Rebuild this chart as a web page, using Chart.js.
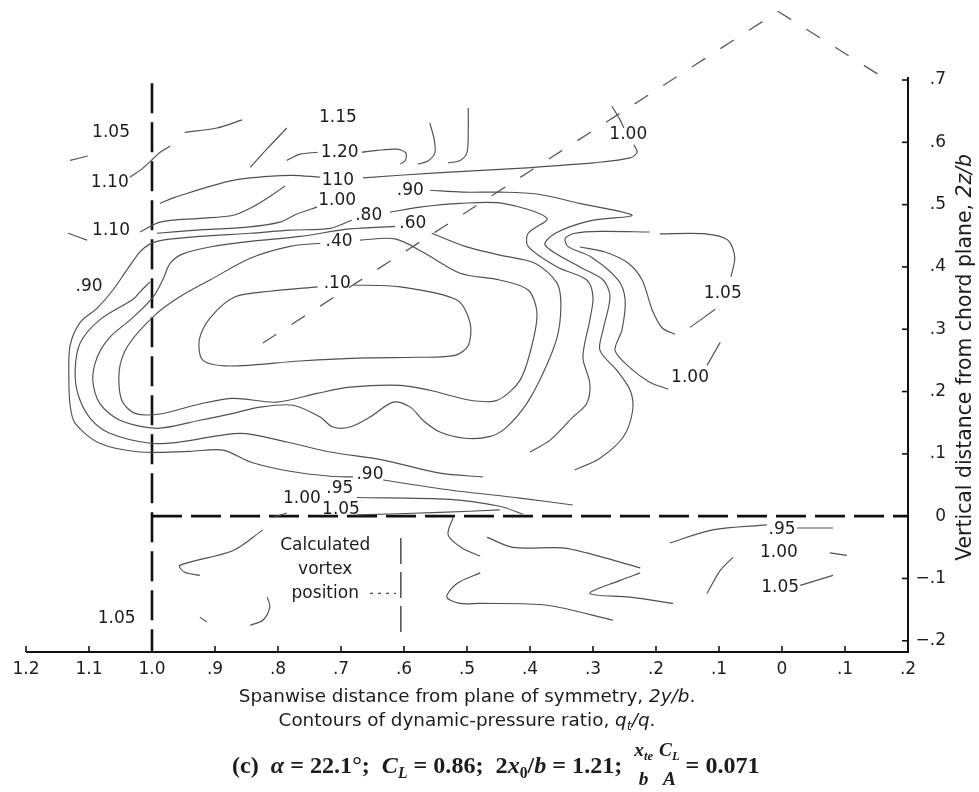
<!DOCTYPE html>
<html>
<head>
<meta charset="utf-8">
<script src="https://cdn.jsdelivr.net/npm/chart.js@4.4.1/dist/chart.umd.min.js"></script>
<style>
  html, body { margin: 0; padding: 0; background: #fff; }
  canvas { display: block; }
</style>
</head>
<body>
<canvas id="qChart" width="979" height="792"></canvas>
<script>
// axis ticks (spanwise 2y/b runs right to left, vertical 2z/b on the right)
const xTicks = [-0.2, -0.1, 0, 0.1, 0.2, 0.3, 0.4, 0.5, 0.6, 0.7, 0.8, 0.9, 1.0, 1.1, 1.2];
const xTickLabels = ['.2', '.1', '0', '.1', '.2', '.3', '.4', '.5', '.6', '.7', '.8', '.9', '1.0', '1.1', '1.2'];
const yTicks = [-0.2, -0.1, 0, 0.1, 0.2, 0.3, 0.4, 0.5, 0.6, 0.7];
const yTickLabels = ['\u2212.2', '\u2212.1', '0', '.1', '.2', '.3', '.4', '.5', '.6', '.7'];

// contours of q_t/q, [2y/b, 2z/b]
const q105UpperLeft = [[0.948, 0.616], [0.897, 0.623], [0.857, 0.636]];
const q105FarLeft = [[1.130, 0.571], [1.102, 0.578]];
const q110UpperArc = [[1.035, 0.544], [1.014, 0.559], [0.987, 0.584], [0.971, 0.594]];
const q115Rise = [[0.844, 0.560], [0.816, 0.591], [0.786, 0.623]];
const q120Left = [[0.786, 0.571], [0.765, 0.581], [0.737, 0.584]];
const q120Loop = [[0.667, 0.584], [0.643, 0.587], [0.611, 0.589], [0.597, 0.583], [0.598, 0.571], [0.606, 0.565]];
const q115Drop = [[0.559, 0.631], [0.552, 0.604], [0.551, 0.583], [0.562, 0.570], [0.578, 0.565]];
const q110Drop = [[0.498, 0.655], [0.498, 0.620], [0.500, 0.584], [0.511, 0.571], [0.530, 0.567]];
const q100Top = [[0.665, 0.543], [0.548, 0.551], [0.405, 0.559], [0.352, 0.563], [0.300, 0.567], [0.241, 0.575], [0.230, 0.584], [0.235, 0.596]];
const q100Tip = [[0.270, 0.658], [0.257, 0.636], [0.251, 0.623]];
const q110Stub = [[1.133, 0.454], [1.103, 0.443]];

const bundleA = [[0.987, 0.502], [0.963, 0.512], [0.871, 0.539], [0.781, 0.547], [0.733, 0.544]];
const bundleB = [[1.019, 0.456], [0.987, 0.472], [0.924, 0.478], [0.871, 0.483], [0.837, 0.498], [0.810, 0.515], [0.789, 0.530]];
const bundleC = [[0.992, 0.454], [0.929, 0.459], [0.849, 0.464], [0.797, 0.472], [0.770, 0.485], [0.738, 0.496]];

const q90Outer = [[0.683, 0.475], [0.717, 0.462], [0.781, 0.459], [0.844, 0.454], [0.924, 0.449], [0.983, 0.443], [1.003, 0.437], [1.019, 0.424], [1.038, 0.398], [1.062, 0.363], [1.087, 0.334], [1.114, 0.311], [1.130, 0.274], [1.132, 0.226], [1.130, 0.178], [1.122, 0.149], [1.083, 0.117], [1.019, 0.103], [0.940, 0.104], [0.887, 0.106], [0.844, 0.087], [0.781, 0.072], [0.717, 0.064], [0.681, 0.063]];
const q95Wrap = [[1.003, 0.376], [1.019, 0.360], [1.030, 0.348], [1.083, 0.315], [1.114, 0.278], [1.122, 0.234], [1.117, 0.194], [1.098, 0.157], [1.067, 0.133], [1.003, 0.117], [0.956, 0.119], [0.860, 0.133], [0.786, 0.119], [0.717, 0.103], [0.633, 0.090], [0.543, 0.069], [0.475, 0.063]];
const q60Loop = [[0.614, 0.465], [0.686, 0.461], [0.765, 0.449], [0.844, 0.441], [0.908, 0.432], [0.951, 0.421], [0.971, 0.406], [0.983, 0.379], [0.998, 0.352], [1.030, 0.319], [1.067, 0.287], [1.087, 0.255], [1.094, 0.218], [1.083, 0.181], [1.051, 0.154], [0.992, 0.141], [0.924, 0.154], [0.871, 0.165], [0.829, 0.175], [0.776, 0.178], [0.733, 0.159], [0.713, 0.143], [0.686, 0.143], [0.654, 0.159], [0.617, 0.183], [0.590, 0.175], [0.570, 0.154], [0.543, 0.135], [0.503, 0.125], [0.463, 0.128], [0.437, 0.143], [0.405, 0.181], [0.379, 0.230], [0.357, 0.287], [0.351, 0.339], [0.357, 0.374], [0.392, 0.406], [0.448, 0.419], [0.503, 0.433], [0.556, 0.454]];
const q40Loop = [[0.670, 0.443], [0.614, 0.445], [0.567, 0.422], [0.511, 0.390], [0.448, 0.379], [0.403, 0.363], [0.389, 0.327], [0.397, 0.274], [0.416, 0.218], [0.452, 0.186], [0.495, 0.186], [0.559, 0.202], [0.606, 0.210], [0.686, 0.207], [0.738, 0.197], [0.802, 0.183], [0.871, 0.189], [0.924, 0.180], [0.987, 0.164], [1.027, 0.165], [1.048, 0.186], [1.052, 0.234], [1.038, 0.274], [0.995, 0.323], [0.956, 0.352], [0.908, 0.379], [0.844, 0.414], [0.781, 0.433], [0.733, 0.438]];
const q10Loop = [[0.681, 0.371], [0.606, 0.368], [0.516, 0.347], [0.495, 0.310], [0.498, 0.274], [0.519, 0.258], [0.579, 0.255], [0.659, 0.254], [0.765, 0.249], [0.876, 0.241], [0.919, 0.250], [0.925, 0.283], [0.908, 0.318], [0.868, 0.352], [0.813, 0.361], [0.737, 0.368]];
const q80Loop = [[0.622, 0.488], [0.575, 0.496], [0.511, 0.502], [0.443, 0.502], [0.373, 0.478], [0.403, 0.454], [0.403, 0.433], [0.357, 0.400], [0.310, 0.379], [0.300, 0.352], [0.305, 0.315], [0.316, 0.255], [0.305, 0.213], [0.310, 0.181], [0.332, 0.159], [0.368, 0.122], [0.400, 0.103]];
const q90Loop = [[0.559, 0.523], [0.506, 0.520], [0.448, 0.520], [0.389, 0.517], [0.321, 0.502], [0.238, 0.483], [0.305, 0.474], [0.360, 0.454], [0.376, 0.435], [0.321, 0.400], [0.284, 0.379], [0.273, 0.352], [0.284, 0.299], [0.289, 0.266], [0.262, 0.234], [0.241, 0.202], [0.237, 0.170], [0.252, 0.127], [0.289, 0.093], [0.329, 0.074]];
const q100Side = [[0.210, 0.456], [0.289, 0.457], [0.329, 0.454], [0.344, 0.446], [0.340, 0.433], [0.303, 0.416], [0.260, 0.379], [0.249, 0.347], [0.254, 0.299], [0.265, 0.266], [0.241, 0.238], [0.210, 0.215], [0.181, 0.204]];
const q100Tail = [[0.119, 0.242], [0.098, 0.279]];
const q105Inner = [[0.321, 0.432], [0.281, 0.424], [0.244, 0.406], [0.222, 0.379], [0.206, 0.331], [0.190, 0.302], [0.170, 0.292]];
const q105Mid = [[0.146, 0.303], [0.106, 0.332]];
const q105Outer = [[0.081, 0.384], [0.075, 0.416], [0.086, 0.443], [0.122, 0.453], [0.194, 0.453]];

const low90 = [[0.633, 0.058], [0.527, 0.042], [0.416, 0.029], [0.332, 0.018]];
const low95 = [[0.675, 0.030], [0.527, 0.027], [0.448, 0.016], [0.411, 0.003]];
const low100 = [[0.808, -0.002], [0.786, 0.005]];
const low105 = [[0.675, 0.002], [0.543, 0.006], [0.448, 0.010]];

const subHook = [[0.824, -0.022], [0.871, -0.055], [0.956, -0.079], [0.948, -0.090], [0.924, -0.095]];
const subArc = [[0.817, -0.130], [0.813, -0.146], [0.824, -0.167], [0.844, -0.175]];
const subStub = [[0.924, -0.162], [0.913, -0.170]];
const subWaveA = [[0.522, -0.002], [0.530, -0.030], [0.508, -0.051], [0.479, -0.064]];
const subWaveB = [[0.468, -0.034], [0.427, -0.050], [0.348, -0.051], [0.310, -0.059], [0.225, -0.083]];
const subVee = [[0.225, -0.091], [0.257, -0.103], [0.305, -0.124], [0.241, -0.130], [0.173, -0.140]];
const subLow = [[0.479, -0.091], [0.516, -0.108], [0.532, -0.130], [0.511, -0.140], [0.479, -0.140], [0.373, -0.143], [0.268, -0.167]];
const q95Low = [[0.178, -0.043], [0.110, -0.022], [0.024, -0.014]];
const q95LowEnd = [[-0.024, -0.019], [-0.081, -0.019]];
const q100Low = [[0.119, -0.124], [0.098, -0.087], [0.078, -0.066]];
const q100LowEnd = [[-0.076, -0.059], [-0.103, -0.063]];
const q105Low = [[-0.029, -0.111], [-0.081, -0.095]];

// reference lines
const spanLine = [[1.0, 0.695], [1.0, -0.218]];
const chordLine = [[1.0, 0], [-0.2, 0]];
const tailOutline = [[0.824, 0.278], [0.006, 0.81], [-0.167, 0.70]];
const vortexLine = [[0.605, -0.035], [0.605, -0.195]];
const vortexArrow = [[0.654, -0.124], [0.613, -0.124]];

// contour value labels: text, 2y/b, 2z/b
const contourLabels = [
  ['1.05', 1.065, 0.615], ['1.10', 1.067, 0.536], ['1.10', 1.065, 0.459], ['.90', 1.100, 0.368],
  ['1.15', 0.705, 0.640], ['1.20', 0.702, 0.584], ['110', 0.705, 0.539], ['1.00', 0.706, 0.507],
  ['.90', 0.590, 0.523], ['.80', 0.656, 0.483], ['.60', 0.586, 0.470], ['.40', 0.703, 0.440],
  ['.10', 0.706, 0.374], ['1.00', 0.244, 0.612], ['1.05', 0.094, 0.358], ['1.00', 0.146, 0.223],
  ['.90', 0.654, 0.066], ['.95', 0.702, 0.045], ['1.00', 0.762, 0.029], ['1.05', 0.700, 0.010],
  ['.95', 0.000, -0.022], ['1.00', 0.005, -0.059], ['1.05', 0.003, -0.114], ['1.05', 1.056, -0.164]
];
const vortexNote = ['Calculated', 'vortex', 'position'];

const contourLines = [
  q105UpperLeft, q105FarLeft, q110UpperArc, q115Rise, q120Left, q120Loop, q115Drop, q110Drop,
  q100Top, q100Tip, q110Stub, bundleA, bundleB, bundleC, q90Outer, q95Wrap, q60Loop, q40Loop,
  q10Loop, q80Loop, q90Loop, q100Side, q100Tail, q105Inner, q105Mid, q105Outer,
  low90, low95, low100, low105, subHook, subArc, subStub, subWaveA, subWaveB, subVee, subLow,
  q95Low, q95LowEnd, q100Low, q100LowEnd, q105Low
];

const SANS = '"DejaVu Sans", sans-serif';
const SERIF = '"Liberation Serif", "DejaVu Serif", serif';
const INK = '#1c1c1c';

function toPoints(line) {
  return line.map(([x, y]) => ({ x, y }));
}

const datasets = contourLines.map(line => ({
  data: toPoints(line),
  borderColor: '#505050',
  borderWidth: 1.15,
  pointRadius: 0,
  tension: 0.3,
  fill: false
}));

function dashed(line, width, dash, color) {
  return {
    data: toPoints(line),
    borderColor: color,
    borderWidth: width,
    borderDash: dash,
    pointRadius: 0,
    tension: 0,
    fill: false
  };
}

datasets.push(dashed(spanLine, 2.6, [30, 9], '#111'));
datasets.push(dashed(chordLine, 2.6, [30, 9], '#111'));
datasets.push(dashed(tailOutline, 1.3, [16, 18], '#5a5a5a'));
datasets.push(dashed(vortexLine, 1.3, [26, 8], '#333'));
datasets.push(dashed(vortexArrow, 1.2, [3, 5], '#444'));

// text made of pieces: roman, italic, subscript
function runFont(r, size, family) {
  return (r.b ? 'bold ' : '') + (r.i ? 'italic ' : '') + (size * (r.s || 1)) + 'px ' + family;
}

function runsWidth(ctx, runs, size, family) {
  let w = 0;
  runs.forEach(r => { ctx.font = runFont(r, size, family); w += ctx.measureText(r.t).width; });
  return w;
}

function drawRuns(ctx, runs, x, y, size, family) {
  runs.forEach(r => {
    ctx.font = runFont(r, size, family);
    ctx.fillText(r.t, x, y + (r.dy || 0) * size);
    x += ctx.measureText(r.t).width;
  });
  return x;
}

function fitSize(ctx, runs, base, family, target) {
  return base * target / runsWidth(ctx, runs, base, family);
}

// caption pieces; a part with num/den is a stacked fraction
const captionParts = [
  { runs: [{ t: '(c)  ', b: true }, { t: '\u03b1', b: true, i: true }, { t: ' = 22.1\u00b0;  ', b: true },
    { t: 'C', b: true, i: true }, { t: 'L', b: true, i: true, s: 0.65, dy: 0.3 },
    { t: ' = 0.86;  2', b: true }, { t: 'x', b: true, i: true }, { t: '0', b: true, s: 0.65, dy: 0.3 },
    { t: '/', b: true }, { t: 'b', b: true, i: true }, { t: ' = 1.21;  ', b: true }] },
  { num: [{ t: 'x', b: true, i: true }, { t: 'te', b: true, i: true, s: 0.65, dy: 0.3 }], den: [{ t: 'b', b: true, i: true }] },
  { runs: [{ t: ' ', b: true }] },
  { num: [{ t: 'C', b: true, i: true }, { t: 'L', b: true, i: true, s: 0.65, dy: 0.3 }], den: [{ t: 'A', b: true, i: true }] },
  { runs: [{ t: ' = 0.071', b: true }] }
];

function partWidth(ctx, part, size) {
  if (part.runs) return runsWidth(ctx, part.runs, size, SERIF);
  return Math.max(runsWidth(ctx, part.num, size * 0.8, SERIF), runsWidth(ctx, part.den, size * 0.8, SERIF));
}

const paperPlugin = {
  id: 'paper',
  afterDatasetsDraw(chart) {
    const { ctx, scales: { x, y } } = chart;
    const px = v => x.getPixelForValue(v);
    const py = v => y.getPixelForValue(v);
    const left = px(1.2), right = px(-0.2), bottom = py(-0.218), top = py(0.705);

    ctx.save();
    ctx.strokeStyle = '#111';
    ctx.lineWidth = 2;
    ctx.beginPath();
    ctx.moveTo(left, bottom);
    ctx.lineTo(right, bottom);
    ctx.lineTo(right, top);
    ctx.stroke();

    ctx.lineWidth = 1.6;
    xTicks.forEach(v => {
      ctx.beginPath(); ctx.moveTo(px(v), bottom); ctx.lineTo(px(v), bottom - 6); ctx.stroke();
    });
    yTicks.forEach(v => {
      ctx.beginPath(); ctx.moveTo(right, py(v)); ctx.lineTo(right - 6, py(v)); ctx.stroke();
    });

    ctx.fillStyle = INK;
    ctx.textBaseline = 'middle';
    ctx.font = '17px ' + SANS;
    ctx.textAlign = 'center';
    xTicks.forEach((v, i) => ctx.fillText(xTickLabels[i], px(v), bottom + 18));
    ctx.textAlign = 'right';
    yTicks.forEach((v, i) => ctx.fillText(yTickLabels[i], right + 38, py(v)));

    ctx.textAlign = 'center';
    contourLabels.forEach(([t, vx, vy]) => ctx.fillText(t, px(vx), py(vy)));

    const noteLevels = [-0.047, -0.085, -0.124];
    vortexNote.forEach((t, i) => ctx.fillText(t, px(0.725), py(noteLevels[i])));

    // x-axis title, two lines at one size
    ctx.textAlign = 'left';
    const mid = (left + right) / 2;
    const line1 = [{ t: 'Spanwise distance from plane of symmetry, ' }, { t: '2y/b', i: true }, { t: '.' }];
    const s = fitSize(ctx, line1, 16, SANS, 457);
    drawRuns(ctx, line1, mid - runsWidth(ctx, line1, s, SANS) / 2, bottom + 45, s, SANS);

    const line2 = [{ t: 'Contours of dynamic-pressure ratio, ' }, { t: 'q', i: true },
      { t: 't', i: true, s: 0.7, dy: 0.3 }, { t: '/q', i: true }, { t: '.' }];
    drawRuns(ctx, line2, mid - runsWidth(ctx, line2, s, SANS) / 2, bottom + 69, s, SANS);

    // y-axis title, read from bottom to top
    const yTitle = [{ t: 'Vertical distance from chord plane, ' }, { t: '2z/b', i: true }];
    const ys = fitSize(ctx, yTitle, 17, SANS, 407);
    ctx.save();
    ctx.translate(right + 58, (bottom + top) / 2 - 7);
    ctx.rotate(-Math.PI / 2);
    drawRuns(ctx, yTitle, -runsWidth(ctx, yTitle, ys, SANS) / 2, 0, ys, SANS);
    ctx.restore();

    // caption, scaled to span the same width as the printed one
    const cy = bottom + 115;
    let total = 0;
    captionParts.forEach(p => { total += partWidth(ctx, p, 20); });
    const cs = 20 * 528 / total;
    let cx = 232;
    captionParts.forEach(p => {
      const w = partWidth(ctx, p, cs);
      if (p.runs) {
        drawRuns(ctx, p.runs, cx, cy, cs, SERIF);
      } else {
        const fs = cs * 0.8;
        const wn = runsWidth(ctx, p.num, fs, SERIF);
        const wd = runsWidth(ctx, p.den, fs, SERIF);
        drawRuns(ctx, p.num, cx + (w - wn) / 2, cy - 16, fs, SERIF);
        drawRuns(ctx, p.den, cx + (w - wd) / 2, cy + 13, fs, SERIF);
      }
      cx += w;
    });

    ctx.restore();
  }
};

new Chart(document.getElementById('qChart'), {
  type: 'line',
  data: { datasets: datasets },
  options: {
    responsive: false,
    animation: false,
    devicePixelRatio: 1,
    layout: { padding: { left: 26, right: 71, top: 4, bottom: 140 } },
    plugins: {
      legend: { display: false },
      tooltip: { enabled: false }
    },
    scales: {
      x: { type: 'linear', reverse: true, min: -0.2, max: 1.2, display: false },
      y: { type: 'linear', min: -0.218, max: 0.822, display: false }
    }
  },
  plugins: [paperPlugin]
});
</script>
</body>
</html>
